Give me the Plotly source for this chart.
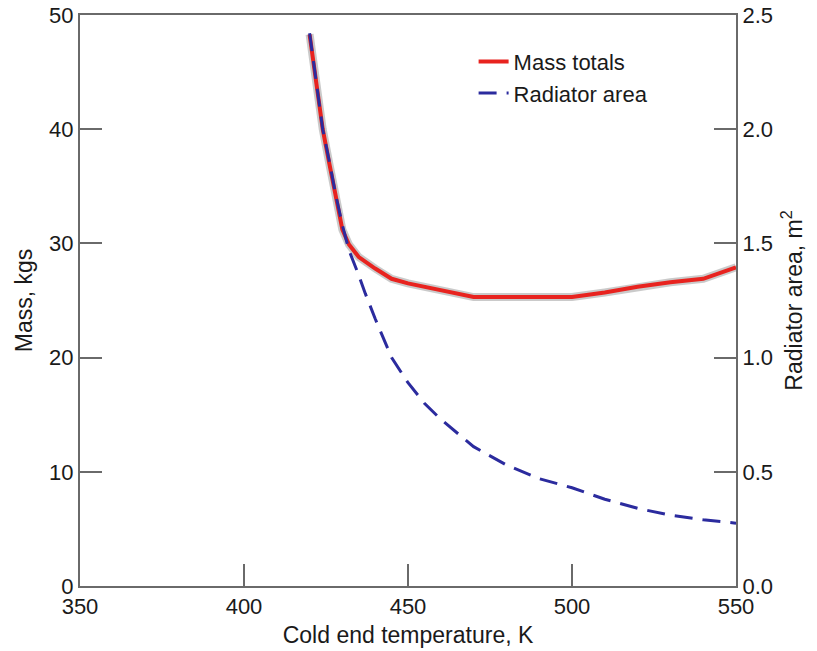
import plotly.graph_objects as go

temp_mass = [420, 422, 424, 426, 428, 430, 432, 435, 440, 445, 450, 460, 470, 480, 490, 500, 510, 520, 530, 540, 550]
mass_totals = [48.3, 44.0, 40.0, 37.0, 34.0, 31.2, 29.9, 28.8, 27.8, 26.9, 26.5, 25.9, 25.3, 25.3, 25.3, 25.3, 25.7, 26.2, 26.6, 26.9, 27.9]

temp_area = [420, 422, 424, 426, 428, 430, 432, 435, 437, 440, 445, 450, 455, 460, 470, 480, 490, 500, 510, 520, 530, 540, 550]
radiator_area = [2.42, 2.2, 2.0, 1.86, 1.71, 1.58, 1.47, 1.36, 1.28, 1.17, 1.0, 0.89, 0.8, 0.73, 0.61, 0.53, 0.47, 0.43, 0.38, 0.34, 0.31, 0.29, 0.275]

FONT = "Liberation Sans, Arial, sans-serif"
AX = "#6a6a6a"
TXT = "#1a1a1a"
TITLE_FONT = dict(family=FONT, size=23, color=TXT)
TICK_FONT = dict(family=FONT, size=22, color=TXT)

fig = go.Figure()
fig.add_trace(go.Scatter(x=temp_mass, y=mass_totals, mode="lines",
                         line=dict(color="rgba(150,150,150,0.5)", width=8),
                         showlegend=False, hoverinfo="skip"))
fig.add_trace(go.Scatter(x=temp_mass, y=mass_totals, mode="lines", name="Mass totals",
                         line=dict(color="#e8231f", width=4)))
fig.add_trace(go.Scatter(x=temp_area, y=radiator_area, mode="lines", name="Radiator area",
                         yaxis="y2", line=dict(color="#2b2b9e", width=3, dash="18px,10px")))

fig.update_layout(
    width=817, height=651,
    margin=dict(l=80, r=81, t=15, b=65),
    paper_bgcolor="white", plot_bgcolor="white",
    font=dict(family=FONT, size=22, color=TXT),
    showlegend=True,
    legend=dict(x=0.60, y=0.955, xanchor="left", yanchor="top",
                bgcolor="rgba(0,0,0,0)", font=dict(family=FONT, size=22, color=TXT), tracegroupgap=0),
    xaxis=dict(range=[350, 550], tickvals=[350, 400, 450, 500, 550], tickfont=TICK_FONT,
               showline=True, linecolor=AX, linewidth=2, mirror=True,
               ticks="inside", ticklen=22, tickcolor=AX, tickwidth=1.5,
               showgrid=False, zeroline=False, automargin=False,
               title=dict(text="Cold end temperature, K", standoff=8, font=TITLE_FONT)),
    yaxis=dict(range=[0, 50], tickvals=[0, 10, 20, 30, 40, 50], tickfont=TICK_FONT,
               showline=True, linecolor=AX, linewidth=2,
               ticks="inside", ticklen=22, tickcolor=AX, tickwidth=1.5,
               showgrid=False, zeroline=False, automargin=False,
               title=dict(text="Mass, kgs", standoff=10, font=TITLE_FONT)),
    yaxis2=dict(range=[0, 2.5], tickvals=[0, 0.5, 1.0, 1.5, 2.0, 2.5], tickformat=".1f",
                tickfont=TICK_FONT,
                overlaying="y", side="right",
                showline=True, linecolor=AX, linewidth=2,
                ticks="inside", ticklen=22, tickcolor=AX, tickwidth=1.5,
                showgrid=False, zeroline=False, automargin=False,
                title=dict(text="Radiator area, m<sup>2</sup>", standoff=14, font=TITLE_FONT)),
)

fig.write_html("out.html")
